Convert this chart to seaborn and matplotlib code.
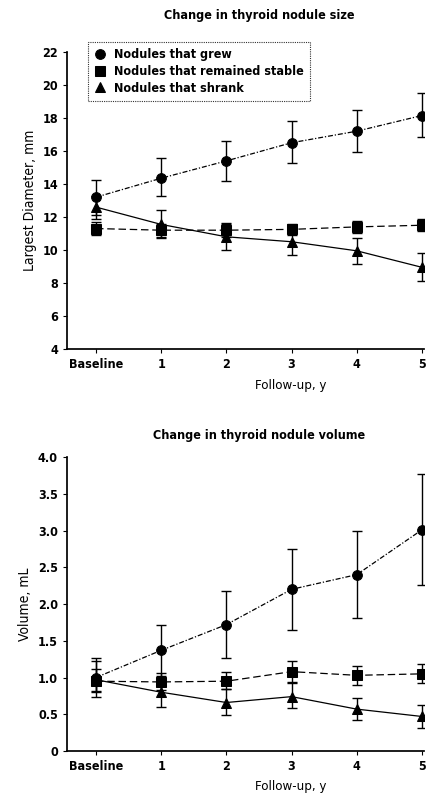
import numpy as np
import pandas as pd
import seaborn as sns
import matplotlib.pyplot as plt

# x positions / labels
years = [0, 1, 2, 3, 4, 5]
year_labels = ['Baseline', '1', '2', '3', '4', '5']
groups = ['Nodules that grew', 'Nodules that remained stable', 'Nodules that shrank']

# Largest diameter, mm (mean, upper, lower)
size_grew = [13.2, 14.35, 15.4, 16.5, 17.2, 18.15]
size_grew_hi = [14.25, 15.55, 16.6, 17.8, 18.5, 19.5]
size_grew_lo = [12.15, 13.25, 14.2, 15.3, 15.95, 16.85]
size_stable = [11.3, 11.2, 11.2, 11.25, 11.4, 11.5]
size_stable_hi = [11.7, 11.6, 11.65, 11.6, 11.75, 11.85]
size_stable_lo = [10.9, 10.8, 10.8, 10.9, 11.05, 11.15]
size_shrank = [12.6, 11.55, 10.8, 10.5, 9.95, 8.95]
size_shrank_hi = [13.3, 12.4, 11.6, 11.3, 10.75, 9.8]
size_shrank_lo = [11.9, 10.7, 10.0, 9.7, 9.15, 8.1]

# Volume, mL (mean, upper, lower)
vol_grew = [1.0, 1.37, 1.72, 2.2, 2.4, 3.01]
vol_grew_hi = [1.27, 1.72, 2.18, 2.75, 3.0, 3.77]
vol_grew_lo = [0.73, 1.02, 1.26, 1.65, 1.81, 2.26]
vol_stable = [0.95, 0.94, 0.95, 1.08, 1.03, 1.05]
vol_stable_hi = [1.22, 1.06, 1.07, 1.22, 1.16, 1.19]
vol_stable_lo = [0.82, 0.83, 0.84, 0.93, 0.9, 0.92]
vol_shrank = [0.97, 0.8, 0.66, 0.74, 0.57, 0.47]
vol_shrank_hi = [1.12, 1.0, 0.84, 0.94, 0.72, 0.63]
vol_shrank_lo = [0.8, 0.6, 0.49, 0.58, 0.42, 0.32]

sns.set_theme(style='ticks')
plt.rcParams['font.family'] = ['DejaVu Sans']
plt.rcParams['font.stretch'] = 'condensed'
plt.rcParams['text.color'] = 'black'
plt.rcParams['axes.labelcolor'] = 'black'
plt.rcParams['xtick.color'] = 'black'
plt.rcParams['ytick.color'] = 'black'
plt.rcParams['axes.edgecolor'] = 'black'

markers = {groups[0]: 'o', groups[1]: 's', groups[2]: '^'}
dashes = {groups[0]: (4, 1.5, 1, 1.5), groups[1]: (6, 3), groups[2]: ''}


def draw_panel(ax, series):
    rows = []
    for g, (m, hi, lo) in zip(groups, series):
        for x, v, h, l in zip(years, m, hi, lo):
            rows.append({'year': x, 'value': v, 'hi': h, 'lo': l, 'group': g})
    df = pd.DataFrame(rows)
    for g in groups:
        d = df[df['group'] == g]
        ax.errorbar(d['year'], d['value'],
                    yerr=[d['value'] - d['lo'], d['hi'] - d['value']],
                    fmt='none', ecolor='black', elinewidth=1.0, capsize=3.5, capthick=1.0, zorder=2)
    sns.lineplot(data=df, x='year', y='value', hue='group', style='group',
                 palette=['black'] * 3, markers=markers, dashes=dashes,
                 markersize=7, linewidth=0.9, markeredgecolor='black',
                 ax=ax, legend=True, zorder=3)
    ax.set_xlim(-0.445, 5.03)
    ax.set_xticks(years)
    ax.set_xticklabels(year_labels)
    sns.despine(ax=ax)
    ax.tick_params(labelsize=9, length=3, width=0.8)
    for lab in ax.get_xticklabels() + ax.get_yticklabels():
        lab.set_fontweight('bold')
    ax.set_xlabel('Follow-up, y', fontsize=9.5)
    ax.xaxis.set_label_coords(0.627, -0.1)


fig = plt.figure(figsize=(4.39, 8.01), dpi=100)
ax1 = fig.add_axes([0.1526, 0.5643, 0.813, 0.3708])
ax2 = fig.add_axes([0.1526, 0.0624, 0.813, 0.367])

draw_panel(ax1, [(size_grew, size_grew_hi, size_grew_lo),
                 (size_stable, size_stable_hi, size_stable_lo),
                 (size_shrank, size_shrank_hi, size_shrank_lo)])
ax1.set_ylim(4, 22)
ax1.set_yticks(np.arange(4, 23, 2))
ax1.set_ylabel('Largest Diameter, mm', fontsize=10)
leg = ax1.legend(loc='upper left', bbox_to_anchor=(0.04, 1.055), fontsize=9,
                 frameon=True, fancybox=False, edgecolor='black', borderpad=0.5,
                 handletextpad=0.6, labelspacing=0.3, handlelength=1.0)
for h in leg.legend_handles:
    h.set_linestyle('none')
leg.get_frame().set_linewidth(0.8)
leg.get_frame().set_linestyle((0, (1, 1)))
for t in leg.get_texts():
    t.set_fontweight('bold')

draw_panel(ax2, [(vol_grew, vol_grew_hi, vol_grew_lo),
                 (vol_stable, vol_stable_hi, vol_stable_lo),
                 (vol_shrank, vol_shrank_hi, vol_shrank_lo)])
ax2.set_ylim(0, 4.0)
ax2.set_yticks([0, 0.5, 1.0, 1.5, 2.0, 2.5, 3.0, 3.5, 4.0])
ax2.set_yticklabels(['0', '0.5', '1.0', '1.5', '2.0', '2.5', '3.0', '3.5', '4.0'])
for lab in ax2.get_yticklabels():
    lab.set_fontweight('bold')
ax2.set_ylabel('Volume, mL', fontsize=10)
ax2.get_legend().remove()

fig.text(259 / 439, 1 - 15 / 801, 'Change in thyroid nodule size', ha='center', va='center',
         fontsize=9, fontweight='bold')
fig.text(259 / 439, 1 - 435 / 801, 'Change in thyroid nodule volume', ha='center', va='center',
         fontsize=9, fontweight='bold')

fig.savefig('out.png', dpi=100)
